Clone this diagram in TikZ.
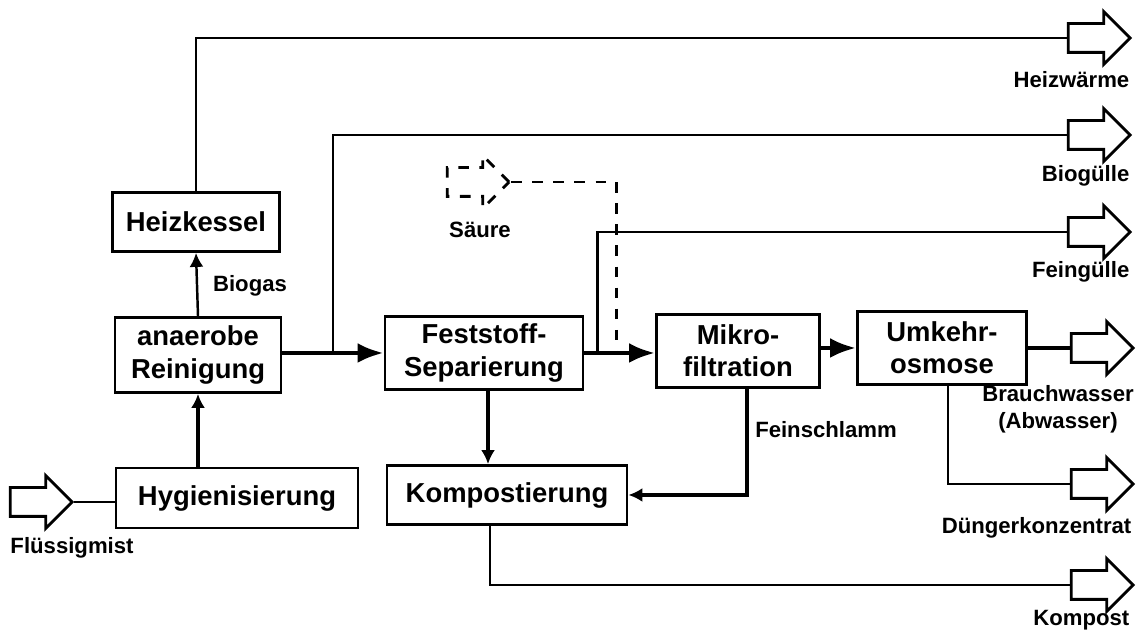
\documentclass[tikz,border=0pt]{standalone}
\usepackage{fontspec}
\setmainfont{Liberation Sans}
\usepackage{tikz}
\usetikzlibrary{arrows.meta,positioning,shapes.arrows,calc}

\begin{document}
\begin{tikzpicture}[
        box/.style={
            draw,
            line width=0.8pt,
            minimum width=1.66cm,
            minimum height=0.73cm,
            inner sep=1pt,
            align=center,
            font=\fontsize{7.8}{9.2}\selectfont\bfseries
        },
        flow/.style={-{Latex[length=0.26cm,width=0.2cm]},line width=1.3pt},
        feed/.style={-{Latex[length=0.14cm,width=0.14cm]},line width=0.9pt},
        link/.style={line width=0.7pt},
        outarr/.style={
            shape=single arrow,
            draw,
            line width=0.8pt,
            minimum height=0.62cm,
            minimum width=0.5cm,
            single arrow head extend=0.12cm,
            inner xsep=0pt,
            inner ysep=0.13cm
        },
        lbl/.style={font=\fontsize{6.3}{7.6}\selectfont\bfseries,inner sep=0pt,align=center}
    ]
        \useasboundingbox (0,0) rectangle (11.4,6.33);

        % process boxes
        \node[box,minimum width=1.67cm,minimum height=0.59cm] (heiz) at (1.96,4.11) {Heizkessel};
        \node[box,minimum height=0.75cm] (anaer) at (1.98,2.78) {anaerobe\\Reinigung};
        \node[box,minimum width=2.42cm,minimum height=0.6cm] (hyg) at (2.37,1.35) {Hygienisierung};
        \node[box,minimum width=1.98cm] (fest) at (4.84,2.80) {Feststoff-\\Separierung};
        \node[box,minimum width=1.63cm] (mikro) at (7.38,2.82) {Mikro-\\filtration};
        \node[box,minimum width=1.69cm] (umk) at (9.42,2.85) {Umkehr-\\osmose};
        \node[box,minimum width=2.40cm,minimum height=0.59cm] (kompo) at (5.07,1.38) {Kompostierung};

        % in- and outputs
        \node[outarr] (fluess) at (0.34,1.31) {};
        \node[outarr,dashed] (saeure) at (4.71,4.51) {};
        \node[outarr] (heizw) at (10.92,5.95) {};
        \node[outarr] (biog) at (10.92,4.98) {};
        \node[outarr] (feing) at (10.92,4.01) {};
        \node[outarr] (brauch) at (10.95,2.85) {};
        \node[outarr] (dueng) at (10.95,1.49) {};
        \node[outarr] (kompost) at (10.95,0.48) {};

        \node[lbl] (lfluess) at (0.72,0.85) {Flüssigmist};
        \node[lbl] (lsaeure) at (4.80,4.03) {Säure};
        \node[lbl] (lbiogas) at (2.50,3.47) {Biogas};
        \node[lbl] (lschlamm) at (8.26,2.03) {Feinschlamm};
        \node[lbl,anchor=east] (lheizw) at (11.30,5.53) {Heizwärme};
        \node[lbl,anchor=east] (lbiog) at (11.30,4.57) {Biogülle};
        \node[lbl,anchor=east] (lfeing) at (11.30,3.61) {Feingülle};
        \node[lbl] (lbrauch) at (10.58,2.24) {Brauchwasser\\(Abwasser)};
        \node[lbl,anchor=east] (ldueng) at (11.32,1.05) {Düngerkonzentrat};
        \node[lbl,anchor=east] (lkompost) at (11.30,0.13) {Kompost};

        % branch points on the main line
        \coordinate (b1) at ($(anaer.east |- fest.west)!0.5!(fest.west)$);
        \coordinate (f1) at ([xshift=0.13cm]fest.east);
        \coordinate (s1) at ([xshift=0.32cm]fest.east);

        \draw[link] (fluess.tip) -- (fluess.tip -| hyg.west);
        \draw[feed] (anaer.south |- hyg.north) -- (anaer.south);
        \draw[feed,line width=0.7pt] (anaer.north) -- (heiz.south);
        \draw[link] (heiz.north) |- (heizw.west);
        \draw[flow] (anaer.east |- fest.west) -- (fest.west);
        \draw[link] (b1) |- (biog.west);
        \draw[flow] (fest.east) -- (fest.east -| mikro.west);
        \draw[link] (f1) |- (feing.west);
        \draw[link,dashed] (saeure.east) -| (s1);
        \draw[flow] (mikro.east |- umk.west) -- (umk.west);
        \draw[line width=1.3pt] (umk.east) -- (brauch.west);
        \draw[link] ([xshift=0.06cm]umk.south) |- (dueng.west);
        \draw[feed] ([xshift=0.04cm]fest.south) -- ([xshift=0.04cm]fest.south |- kompo.north);
        \draw[feed] ([xshift=0.09cm]mikro.south) |- (kompo.east);
        \draw[link] ([xshift=-0.17cm]kompo.south) |- (kompost.west);
    \end{tikzpicture}
\end{document}
